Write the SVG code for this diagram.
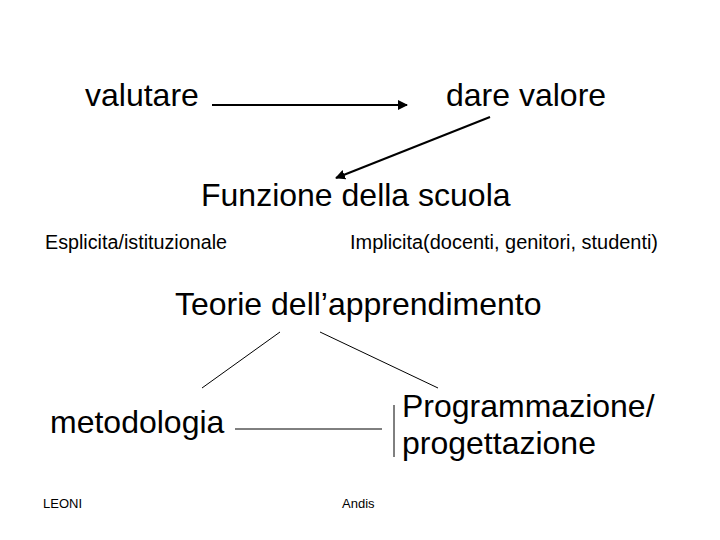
<svg xmlns="http://www.w3.org/2000/svg" width="720" height="540" viewBox="0 0 720 540">
<style>
.big{font-family:"Liberation Sans",Arial,sans-serif;font-size:32px;fill:#000}
.mid{font-family:"Liberation Sans",Arial,sans-serif;font-size:20px;fill:#000}
.sm{font-family:"Liberation Sans",Arial,sans-serif;font-size:13px;fill:#000}
.arr{stroke:#000;stroke-width:2;fill:none;marker-end:url(#ah)}
.ln{stroke:#000;stroke-width:1;fill:none}
</style>
<defs>
<marker id="ah" viewBox="0 0 10 10" refX="9" refY="5" markerWidth="5" markerHeight="5" orient="auto" markerUnits="strokeWidth">
<path d="M0,0 L10,5 L0,10 z" fill="#000"/>
</marker>
</defs>
<rect width="720" height="540" fill="#fff"/>
<g id="connectors">
<line class="arr" x1="212" y1="105" x2="407" y2="105"/>
<line class="arr" x1="490" y1="117" x2="336" y2="178"/>
<line class="ln" x1="280" y1="332" x2="202" y2="388"/>
<line class="ln" x1="320" y1="332" x2="438" y2="388"/>
<line class="ln" x1="235" y1="429" x2="382" y2="429"/>
<line class="ln" x1="394" y1="405" x2="394" y2="457"/>
</g>
<g id="valutare"><text class="big" x="85" y="106">valutare</text></g>
<g id="dare-valore"><text class="big" x="446" y="106">dare valore</text></g>
<g id="funzione"><text class="big" x="201" y="206">Funzione della scuola</text></g>
<g id="esplicita"><text class="mid" x="45" y="249" textLength="182" lengthAdjust="spacingAndGlyphs">Esplicita/istituzionale</text></g>
<g id="implicita"><text class="mid" x="350" y="249" textLength="308" lengthAdjust="spacingAndGlyphs">Implicita(docenti, genitori, studenti)</text></g>
<g id="teorie"><text class="big" x="175" y="315">Teorie dell’apprendimento</text></g>
<g id="metodologia"><text class="big" x="50" y="433">metodologia</text></g>
<g id="programmazione"><text class="big" x="402" y="417">Programmazione/</text><text class="big" x="402" y="454">progettazione</text></g>
<g id="leoni"><text class="sm" x="43" y="508">LEONI</text></g>
<g id="andis"><text class="sm" x="342" y="508">Andis</text></g>
</svg>
